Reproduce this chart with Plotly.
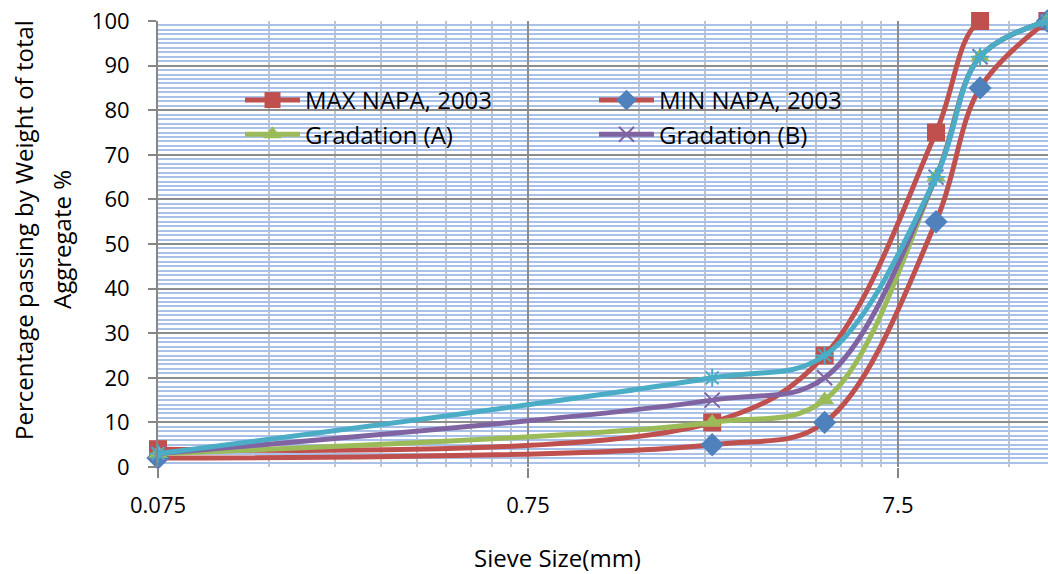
import plotly.graph_objects as go
import numpy as np

# Sieve sizes (mm) and percentage passing for each gradation
sieve_mm = [0.075, 2.36, 4.75, 9.5, 12.5, 19]
max_napa = [4, 10, 25, 75, 100, 100]
min_napa = [2, 5, 10, 55, 85, 100]
grad_a = [3, 10, 15, 65, 92, 100]
grad_b = [3, 15, 20, 65, 92, 100]
grad_c = [3, 20, 25, 65, 92, 100]

x_ticks = [0.075, 0.75, 7.5]
x_tick_text = ["0.075", "0.75", "7.5"]

RED = "#C0504D"
BLUE = "#4F81BD"
GREEN = "#9BBB59"
PURPLE = "#8064A2"
CYAN = "#4BACC6"
FONT = "Open Sans"
TICK_FS = 22
TEXT_FS = 24

fig = go.Figure()

def add_series(y, name, line_color, symbol, marker_color, size, legend="legend",
               show=True, open_marker=False):
    marker = dict(symbol=symbol, size=size, color=marker_color)
    if open_marker:
        marker["line"] = dict(color=marker_color, width=2)
    fig.add_trace(go.Scatter(
        x=sieve_mm, y=y, name=name, mode="lines+markers",
        line=dict(color=line_color, width=5, shape="spline", smoothing=1.0),
        marker=marker, showlegend=show, legend=legend, legendgroup=name,
        cliponaxis=False,
    ))

add_series(max_napa, "MAX NAPA, 2003", RED, "square", RED, 18, legend="legend")
add_series(min_napa, "MIN NAPA, 2003", RED, "diamond", BLUE, 18, legend="legend2")
add_series(grad_a, "Gradation (A)", GREEN, "triangle-up", GREEN, 17, legend="legend")
add_series(grad_b, "Gradation (B)", PURPLE, "x-thin-open", PURPLE, 15, legend="legend2",
           open_marker=True)
add_series(grad_c, "Gradation (C)", CYAN, "asterisk-open", CYAN, 15, show=False,
           open_marker=True)

# minor vertical gridlines at 2..9 multiples of each decade
minor_x = [0.075 * k * 10 ** d for d in range(0, 3) for k in range(2, 10)]

x0 = np.log10(0.075)
fig.update_xaxes(
    type="log", range=[x0, x0 + 890 / 370],
    tickvals=x_ticks, ticktext=x_tick_text,
    ticks="outside", ticklen=10, tickcolor="#868686", tickwidth=2,
    ticklabelstandoff=9,
    showgrid=True, gridcolor="#8C8C8C", gridwidth=2,
    minor=dict(tickvals=minor_x, showgrid=True, gridcolor="#C4C4C4", gridwidth=2, ticks=""),
    showline=False, zeroline=False,
    tickfont=dict(family=FONT, size=TICK_FS, color="black"),
)
fig.update_yaxes(
    range=[0, 100], dtick=10, tick0=0,
    ticks="outside", ticklen=8, tickcolor="#868686", tickwidth=2,
    ticklabelstandoff=14,
    showgrid=True, gridcolor="#8C8C8C", gridwidth=2,
    minor=dict(dtick=1, showgrid=True, gridcolor="#A9C1E8", gridwidth=2, ticks=""),
    showline=True, linecolor="#868686", linewidth=2,
    zeroline=False,
    tickfont=dict(family=FONT, size=TICK_FS, color="black"),
)

title_font = dict(family=FONT, size=TEXT_FS, color="black")
fig.add_annotation(text="Sieve Size(mm)", xref="paper", yref="paper",
                   x=(557 - 158) / 890, y=-(557 - 467) / 446,
                   xanchor="center", yanchor="middle", showarrow=False, font=title_font)
fig.add_annotation(text="Percentage passing by Weight of total", xref="paper", yref="paper",
                   x=-(158 - 23) / 890, y=(467 - 230) / 446, textangle=-90,
                   xanchor="center", yanchor="middle", showarrow=False, font=title_font)
fig.add_annotation(text="Aggregate %", xref="paper", yref="paper",
                   x=-(158 - 61) / 890, y=(467 - 240) / 446, textangle=-90,
                   xanchor="center", yanchor="middle", showarrow=False, font=title_font)

legend_style = dict(
    orientation="v", xanchor="left", yanchor="top",
    bgcolor="rgba(0,0,0,0)", font=dict(family=FONT, size=TEXT_FS, color="black"),
    itemwidth=55, tracegroupgap=0,
)
fig.update_layout(
    width=1048, height=574,
    margin=dict(l=158, r=0, t=21, b=107),
    plot_bgcolor="white", paper_bgcolor="white",
    font=dict(family=FONT, color="black"),
    legend=dict(x=(240 - 158) / 890, y=(467 - 78) / 446, **legend_style),
    legend2=dict(x=(594 - 158) / 890, y=(467 - 78) / 446, **legend_style),
)

fig.write_html("out.html")
